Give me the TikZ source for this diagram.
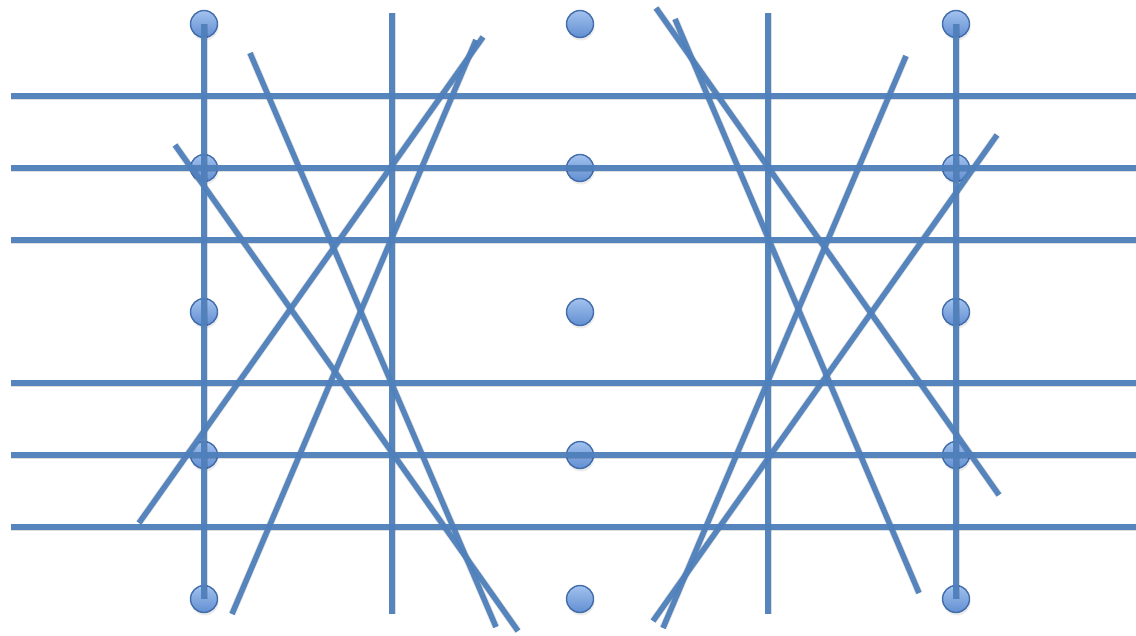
\documentclass[tikz,border=0pt]{standalone}
\usetikzlibrary{shadows}
\definecolor{lineblue}{HTML}{4F81BD}
\definecolor{dotedge}{HTML}{3C68A6}
\definecolor{dottop}{HTML}{9EC0EE}
\definecolor{dotbot}{HTML}{5A8AD0}
\tikzset{
  bar/.style={lineblue, line width=5.5pt, opacity=0.95},
  barshadow/.style={black, line width=7pt, opacity=0.13},
  dotnode/.style={circle, minimum size=27pt, inner sep=0pt, draw=dotedge, line width=1.4pt,
    top color=dottop, bottom color=dotbot, opacity=0.95}
}
\begin{document}
\begin{tikzpicture}[x=1pt,y=-1pt]
\useasboundingbox (0,0) rectangle (1136,635);
% endpoints
\foreach \y [count=\i] in {96,168,240,383,455,527}{
  \coordinate (hL\i) at (11,\y);
  \coordinate (hR\i) at (1136,\y);
}
\coordinate (v2t) at (392,13); \coordinate (v2b) at (392,614);
\coordinate (v3t) at (768,13); \coordinate (v3b) at (768,614);
\coordinate (v1t) at (204,24); \coordinate (v1b) at (204,599);
\coordinate (v4t) at (956,24); \coordinate (v4b) at (956,599);
\coordinate (aS) at (250,53);  \coordinate (aE) at (496,627);
\coordinate (bS) at (175,145); \coordinate (bE) at (518,631);
\coordinate (cS) at (483,37);  \coordinate (cE) at (139,523);
\coordinate (dS) at (476,40);  \coordinate (dE) at (232,614);
\coordinate (eS) at (656,8);   \coordinate (eE) at (999,495);
\coordinate (fS) at (675,19);  \coordinate (fE) at (919,593);
\coordinate (gS) at (906,56);  \coordinate (gE) at (663,628);
\coordinate (hS) at (997,135); \coordinate (hE) at (653,621);
% dots
\foreach \x/\c in {204/a,580/b,956/c}{
  \foreach \y [count=\r] in {24,168,312,455,599}{
    \node[dotnode, drop shadow={opacity=0.15, shadow xshift=1pt, shadow yshift=-3pt}] (dot\c\r) at (\x,\y) {};
  }
}
% shadows of bars
\begin{scope}[yshift=-4pt]
\foreach \i in {1,...,6}{ \draw[barshadow] (hL\i) -- (hR\i); }
\draw[barshadow] (v1t) -- (v1b);
\draw[barshadow] (v2t) -- (v2b);
\draw[barshadow] (v3t) -- (v3b);
\draw[barshadow] (v4t) -- (v4b);
\foreach \l in {a,b,c,d,e,f,g,h}{ \draw[barshadow] (\l S) -- (\l E); }
\end{scope}
% bars
\foreach \i in {1,...,6}{ \draw[bar] (hL\i) -- (hR\i); }
\draw[bar] (v1t) -- (v1b);
\draw[bar] (v2t) -- (v2b);
\draw[bar] (v3t) -- (v3b);
\draw[bar] (v4t) -- (v4b);
\foreach \l in {a,b,c,d,e,f,g,h}{ \draw[bar] (\l S) -- (\l E); }
\end{tikzpicture}
\end{document}
